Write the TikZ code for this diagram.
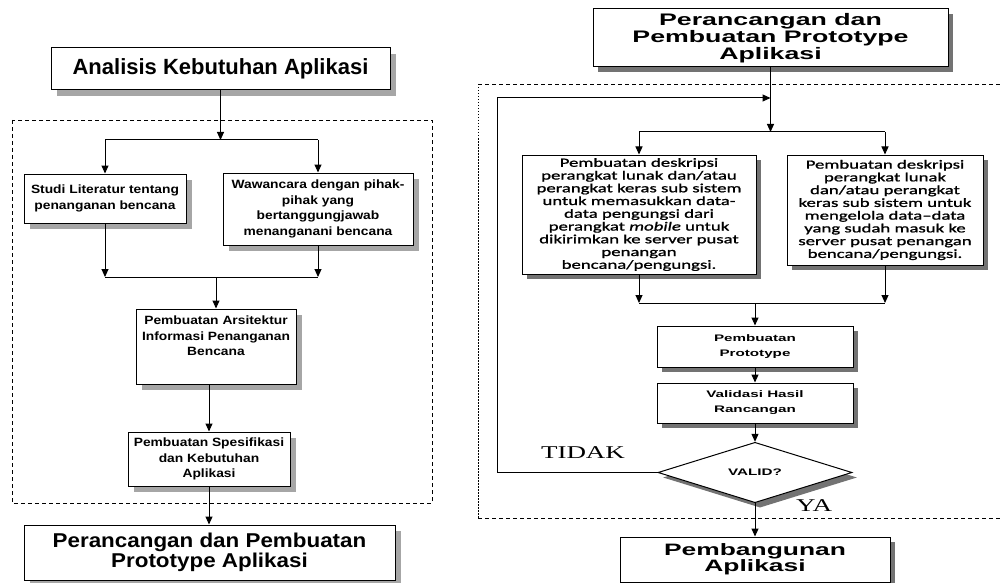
\documentclass[tikz,border=0pt]{standalone}
\usepackage{fontspec}
\setmainfont{Liberation Sans}
\newfontfamily\lsa{Liberation Sans}[FakeStretch=1.15]
\newfontfamily\lsc{Liberation Sans}[FakeStretch=1.12]
\newfontfamily\lsb{Liberation Sans}[FakeStretch=1.6]
\newfontfamily\carw{Carlito}[FakeStretch=1.5, FakeBold=1.2]
\newfontfamily\serw{Liberation Serif}[FakeStretch=1.5]
\usetikzlibrary{arrows.meta,shadows,shapes.geometric}
\tikzset{
  lbox/.style={draw, line width=1pt, fill=white, align=center, inner sep=0pt,
    drop shadow={shadow xshift=6pt, shadow yshift=-6pt, fill=black!35, opacity=1}},
  rbox/.style={draw, line width=1pt, fill=white, align=center, inner sep=0pt,
    drop shadow={shadow xshift=5pt, shadow yshift=-5pt, fill=black!55, opacity=1}},
  lsmall/.style={font={\lsa\bfseries\fontsize{12}{15.5}\selectfont}},
  rsmall/.style={font={\lsb\bfseries\fontsize{9.5}{15}\selectfont}},
  rdesc/.style={font={\carw\fontsize{12.5}{12.75}\selectfont}},
  arr/.style={line width=1pt, -{Triangle[length=8pt,width=7pt]}},
  ln/.style={line width=1pt},
  dashline/.style={line width=0.8pt, dash pattern=on 4pt off 3pt},
}
\begin{document}
\begin{tikzpicture}[x=1pt,y=-1pt]
\useasboundingbox (0,0) rectangle (1001,583);
% ---------- left panel ----------
\draw[dashline] (12,120) rectangle (432,503);
\node[lbox, minimum width=339pt, minimum height=42pt, font={\bfseries\fontsize{22}{24}\selectfont}]
  (A) at (220.5,69) {Analisis Kebutuhan Aplikasi};
\node[lbox, lsmall, minimum width=162pt, minimum height=49pt] (S) at (105,198.5)
  {Studi Literatur tentang\\penanganan bencana};
\node[lbox, lsmall, minimum width=190pt, minimum height=72pt] (W) at (318,209)
  {Wawancara dengan pihak-\\pihak yang\\bertanggungjawab\\menanganani bencana};
\node[lbox, lsmall, minimum width=160pt, minimum height=75pt] (R) at (216,346.5)
  {Pembuatan Arsitektur\\Informasi Penanganan\\Bencana\\\rule{0pt}{20pt}};
\node[lbox, lsmall, minimum width=162pt, minimum height=54pt] (K) at (209,459)
  {Pembuatan Spesifikasi\\dan Kebutuhan\\Aplikasi};
\node[lbox, minimum width=371pt, minimum height=55pt, font={\lsc\bfseries\fontsize{20}{20.5}\selectfont}]
  (P) at (209.5,552.5) {Perancangan dan Pembuatan\\Prototype Aplikasi};
\coordinate (lsL) at (105,140);
\coordinate (lsR) at (318,140);
\coordinate (ljL) at (105,277);
\coordinate (ljR) at (318,277);
\draw[arr] (A.south) -- (A.south |- lsL);
\draw[ln] (lsL) -- (lsR);
\draw[arr] (lsL) -- (S.north);
\draw[arr] (lsR) -- (W.north);
\draw[arr] (S.south) -- (ljL);
\draw[arr] (W.south) -- (ljR);
\draw[ln] (ljL) -- (ljR);
\draw[arr] (R.north |- ljL) -- (R.north);
\draw[arr] (K.north |- R.south) -- (K.north);
\draw[arr] (K.south) -- (K.south |- P.north);
% ---------- right panel ----------
\draw[dashline] (478,84) -- (1001,84);
\draw[dashline] (478,518) -- (1001,518);
\draw[line width=1pt, dash pattern=on 1.5pt off 1.5pt] (478,84) -- (478,518);
\node[rbox, minimum width=355pt, minimum height=58pt, font={\lsb\bfseries\fontsize{16.7}{17}\selectfont}]
  (T) at (770.5,38) {Perancangan dan\\Pembuatan Prototype\\Aplikasi};
\node[rbox, rdesc, minimum width=234pt, minimum height=119pt] (L1) at (639,214.5)
  {Pembuatan deskripsi\\perangkat lunak dan/atau\\perangkat keras sub sistem\\untuk memasukkan data-\\data pengungsi dari\\perangkat \textit{mobile} untuk\\dikirimkan ke server pusat\\penangan\\bencana/pengungsi.};
\node[rbox, rdesc, minimum width=196pt, minimum height=110pt] (L2) at (885,210)
  {Pembuatan deskripsi\\perangkat lunak\\dan/atau perangkat\\keras sub sistem untuk\\mengelola data–data\\yang sudah masuk ke\\server pusat penangan\\bencana/pengungsi.};
\node[rbox, rsmall, minimum width=196pt, minimum height=41pt] (Pr) at (755,346.5)
  {Pembuatan\\Prototype};
\node[rbox, rsmall, minimum width=196pt, minimum height=40pt] (V) at (755,403)
  {Validasi Hasil\\Rancangan};
\node[rbox, rsmall, shape=diamond, minimum width=194pt, minimum height=59pt] (D) at (755,472.5)
  {VALID?};
\node[rbox, minimum width=270pt, minimum height=45pt, font={\lsb\bfseries\fontsize{16.5}{16}\selectfont}]
  (B) at (755,559.5) {Pembangunan\\Aplikasi};
\node[font={\serw\fontsize{18}{18}\selectfont}] (tidak) at (583,453) {TIDAK};
\node[font={\serw\fontsize{18}{18}\selectfont}] (ya) at (814,506) {YA};
\coordinate (rsL) at (639,132);
\coordinate (rsR) at (885,132);
\coordinate (rjL) at (639,303);
\coordinate (rjR) at (885,303);
\coordinate (fbb) at (497,472.5);
\coordinate (fbt) at (497,98);
\coordinate (fbc) at (770.5,98);
\draw[arr] (T.south) -- (T.south |- rsL);
\draw[ln] (rsL) -- (rsR);
\draw[arr] (rsL) -- (L1.north);
\draw[arr] (rsR) -- (L2.north);
\draw[arr] (L1.south) -- (rjL);
\draw[arr] (L2.south) -- (rjR);
\draw[ln] (rjL) -- (rjR);
\draw[arr] (Pr.north |- rjL) -- (Pr.north);
\draw[arr] (Pr.south) -- (V.north);
\draw[arr] (V.south) -- (D.north);
\draw[arr] (D.south) -- (B.north);
\draw[arr] (D.west) -- (fbb) -- (fbt) -- (fbc);
\end{tikzpicture}
\end{document}
